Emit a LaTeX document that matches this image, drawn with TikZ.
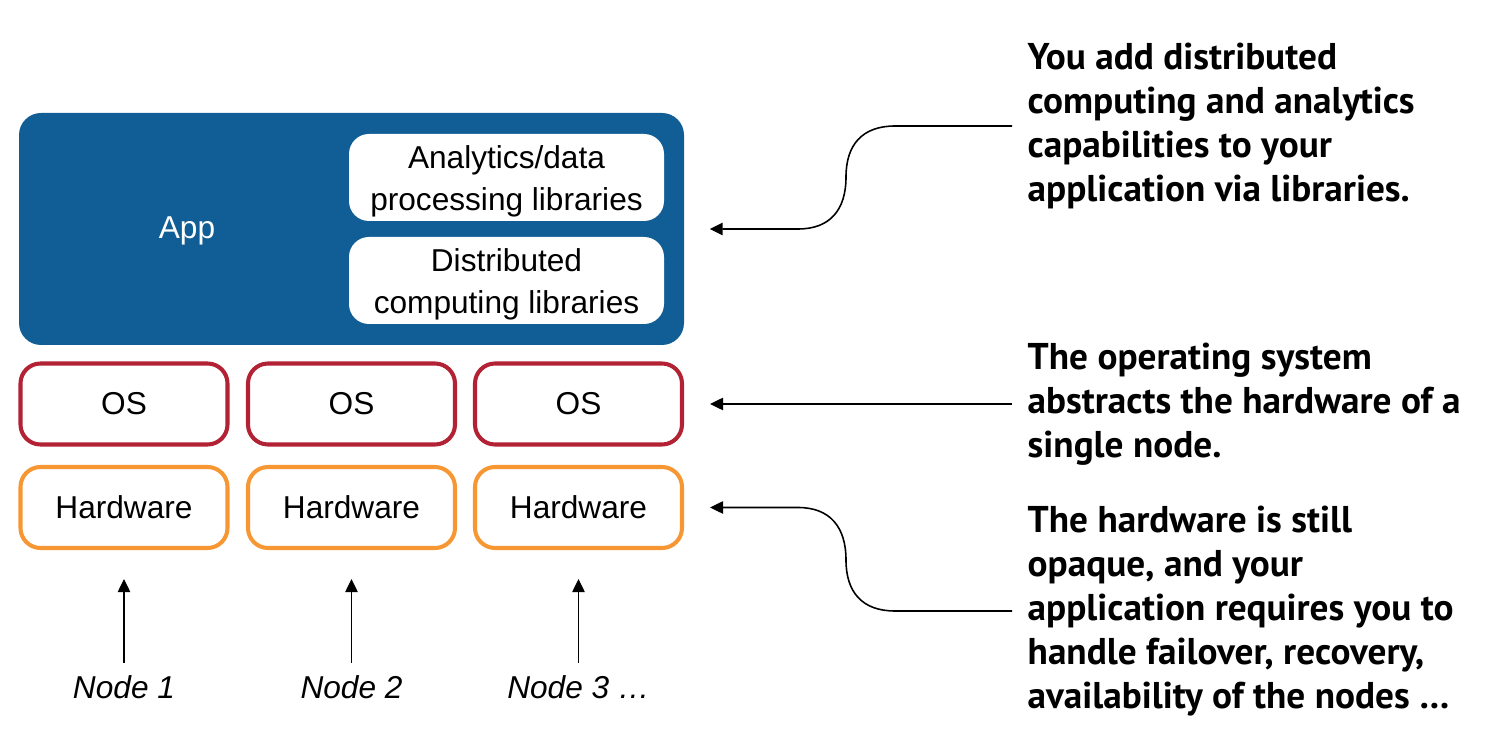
\documentclass[tikz,border=0pt]{standalone}
\usepackage{fontspec}
\setmainfont{Liberation Sans}
\newfontfamily\notefont{PT Sans}
\usetikzlibrary{arrows.meta}
\definecolor{appblue}{RGB}{17,94,150}
\definecolor{osred}{RGB}{178,34,52}
\definecolor{hworange}{RGB}{247,151,51}
\begin{document}
\begin{tikzpicture}[
    every node/.style={font=\fontsize{9}{12}\selectfont},
    layer/.style={line width=1.15pt,fill=white,rounded corners=0.2cm,minimum width=2.07cm,minimum height=0.81cm},
    lib/.style={fill=white,rounded corners=0.2cm,minimum width=3.15cm,minimum height=0.87cm,align=center},
    note/.style={anchor=west,inner sep=0pt,align=left,font=\notefont\bfseries\fontsize{10.6}{12.5}\selectfont},
    conn/.style={line width=0.45pt,-{Triangle[length=3.7pt,width=3.5pt]}}]
        \useasboundingbox (0,0) rectangle (14.94,-7.48);

        % application layer
        \node[fill=appblue,rounded corners=0.22cm,minimum width=6.65cm,minimum height=2.32cm] at (3.515,-2.29) (app) {};
        \node[white] at (1.87,-2.31) (applabel) {App};
        \node[lib] at (5.065,-1.775) (ana) {};
        \node[align=center] at (5.065,-1.81) (analabel) {Analytics/data\\processing libraries};
        \node[lib] at (5.065,-2.805) (dist) {};
        \node[align=center] at (5.065,-2.84) (distlabel) {Distributed\\computing libraries};

        % one column per node
        \node[layer,draw=osred] at (1.24,-4.04) (os1) {OS};
        \node[layer,draw=osred] at (3.515,-4.04) (os2) {OS};
        \node[layer,draw=osred] at (5.785,-4.04) (os3) {OS};

        \node[layer,draw=hworange] at (1.24,-5.075) (hw1) {Hardware};
        \node[layer,draw=hworange] at (3.515,-5.075) (hw2) {Hardware};
        \node[layer,draw=hworange] at (5.785,-5.075) (hw3) {Hardware};

        \node at (1.24,-6.87) (n1) {\itshape Node 1};
        \node at (3.515,-6.87) (n2) {\itshape Node 2};
        \node at (5.785,-6.87) (n3) {\itshape Node 3 \dots};

        \draw[conn,shorten >=0.29cm] (n1) -- (hw1);
        \draw[conn,shorten >=0.29cm] (n2) -- (hw2);
        \draw[conn,shorten >=0.29cm] (n3) -- (hw3);

        % callouts
        \node[note] at (10.27,-1.26) (note1) {You add distributed\\computing and analytics\\capabilities to your\\application via libraries.};
        \node[note] at (10.27,-4.04) (note2) {The operating system\\abstracts the hardware of a\\single node.};
        \node[note] at (10.27,-6.11) (note3) {The hardware is still\\opaque, and your\\application requires you to\\handle failover, recovery,\\availability of the nodes \dots};

        \draw[conn,shorten <=0.15cm,shorten >=0.25cm] (note1.west) -- (8.95,-1.26) .. controls (8.62,-1.26) and (8.46,-1.45) .. (8.46,-1.77) .. controls (8.46,-2.1) and (8.3,-2.29) .. (7.98,-2.29) -- (app.east);
        \draw[conn,shorten <=0.15cm,shorten >=0.26cm] (note2.west) -- (os3.east);
        \draw[conn,shorten <=0.15cm,shorten >=0.26cm] (note3.west) -- (8.95,-6.11) .. controls (8.62,-6.11) and (8.46,-5.92) .. (8.46,-5.6) .. controls (8.46,-5.27) and (8.3,-5.075) .. (7.98,-5.075) -- (hw3.east);
    \end{tikzpicture}
\end{document}
